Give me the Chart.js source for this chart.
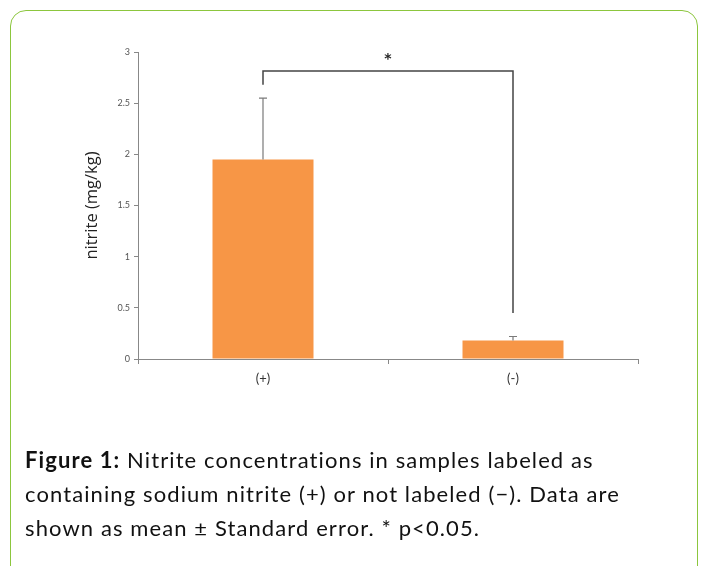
<!DOCTYPE html>
<html>
<head>
<meta charset="utf-8">
<script src="https://cdn.jsdelivr.net/npm/chart.js@4.4.0/dist/chart.umd.min.js"></script>
<style>
  html, body { margin: 0; padding: 0; background: #fff; }
  #wrap { position: relative; width: 702px; height: 566px; overflow: hidden; }
  #frame {
    position: absolute; left: 10px; top: 10px; width: 688px; height: 600px;
    border: 1.5px solid #8cc63e; border-radius: 16px; box-sizing: border-box;
  }
  #chartBox { position: absolute; left: 0; top: 0; width: 702px; height: 566px; }
  #caption {
    position: absolute; left: 25px; top: 443px; width: 670px;
    font-family: Lato, "Open Sans", sans-serif; font-size: 22px; line-height: 34px;
    letter-spacing: 1.1px; color: #111; white-space: nowrap;
  }
  #caption b { font-weight: bold; }
</style>
</head>
<body>
<div id="wrap">
  <div id="frame"></div>
  <div id="chartBox"><canvas id="myChart1" width="702" height="566"></canvas></div>
  <div id="caption">
    <b>Figure 1:</b> Nitrite concentrations in samples labeled as<br>
    containing sodium nitrite (+) or not labeled (−). Data are<br>
    shown as mean ± Standard error. * p&lt;0.05.
  </div>
</div>
<script>
// data ==========================================================
const categories = ["(+)", "(-)"];
const meanValues = [1.95, 0.18];
const errorValues = [0.60, 0.04];
const yTicks = [0, 0.5, 1, 1.5, 2, 2.5, 3];
// significance bracket: left leg bottom, top, right leg bottom, star height
const bracket = { leftLow: 2.68, top: 2.815, rightLow: 0.45, star: 2.93, text: "*" };

// error bars + bracket drawn through the scales
const annotate = {
  id: "annotate",
  afterDatasetsDraw(chart) {
    const ctx = chart.ctx;
    const x = chart.scales.x, y = chart.scales.y;
    ctx.save();
    ctx.strokeStyle = "#7a7a7a";
    ctx.lineWidth = 1.2;
    meanValues.forEach(function (m, i) {
      const px = x.getPixelForValue(i);
      const y0 = y.getPixelForValue(m);
      const y1 = y.getPixelForValue(m + errorValues[i]);
      ctx.beginPath();
      ctx.moveTo(px, y0);
      ctx.lineTo(px, y1);
      ctx.moveTo(px - 4, y1);
      ctx.lineTo(px + 4, y1);
      ctx.stroke();
    });
    const xl = x.getPixelForValue(0), xr = x.getPixelForValue(1);
    ctx.strokeStyle = "#444";
    ctx.lineWidth = 1.5;
    ctx.beginPath();
    ctx.moveTo(xl, y.getPixelForValue(bracket.leftLow));
    ctx.lineTo(xl, y.getPixelForValue(bracket.top));
    ctx.lineTo(xr, y.getPixelForValue(bracket.top));
    ctx.lineTo(xr, y.getPixelForValue(bracket.rightLow));
    ctx.stroke();
    ctx.fillStyle = "#222";
    ctx.font = "bold 14px 'DejaVu Sans', sans-serif";
    ctx.textAlign = "center";
    ctx.textBaseline = "middle";
    ctx.fillText(bracket.text, (xl + xr) / 2, y.getPixelForValue(bracket.star));
    ctx.restore();
  },
};

const data = {
  labels: categories,
  datasets: [
    {
      label: "nitrite",
      data: meanValues,
      backgroundColor: "#f79646",
      borderWidth: 0,
      categoryPercentage: 1,
      barPercentage: 0.404,
    },
  ],
};

const config = {
  type: "bar",
  data: data,
  plugins: [annotate],
  options: {
    responsive: false,
    animation: false,
    layout: { padding: { left: 0, top: 52, right: 64, bottom: 0 } },
    plugins: { legend: { display: false }, tooltip: { enabled: false } },
    scales: {
      x: {
        afterFit: function (s) { s.height = 207; },
        grid: { offset: true, drawOnChartArea: false, drawTicks: true, tickLength: 5, color: "#888" },
        border: { display: true, color: "#888", width: 1 },
        ticks: {
          color: "#333",
          padding: 7,
          font: { size: 13, family: "Lato, 'Open Sans', sans-serif" },
        },
      },
      y: {
        min: 0,
        max: 3,
        afterFit: function (s) { s.width = 138; },
        afterBuildTicks: function (s) { s.ticks = yTicks.map(function (v) { return { value: v }; }); },
        grid: { drawOnChartArea: false, drawTicks: true, tickLength: 4, color: "#888" },
        border: { display: true, color: "#888", width: 1 },
        ticks: {
          color: "#555",
          padding: 4,
          font: { size: 9, family: "Lato, 'Open Sans', sans-serif" },
          callback: function (v) { return String(v); },
        },
        title: {
          display: true,
          text: "nitrite (mg/kg)",
          color: "#222",
          padding: { top: 82, bottom: 0 },
          font: { size: 16.5, family: "'Open Sans', Lato, sans-serif" },
        },
      },
    },
  },
};

const myChart = new Chart(document.getElementById("myChart1"), config);
</script>
</body>
</html>
